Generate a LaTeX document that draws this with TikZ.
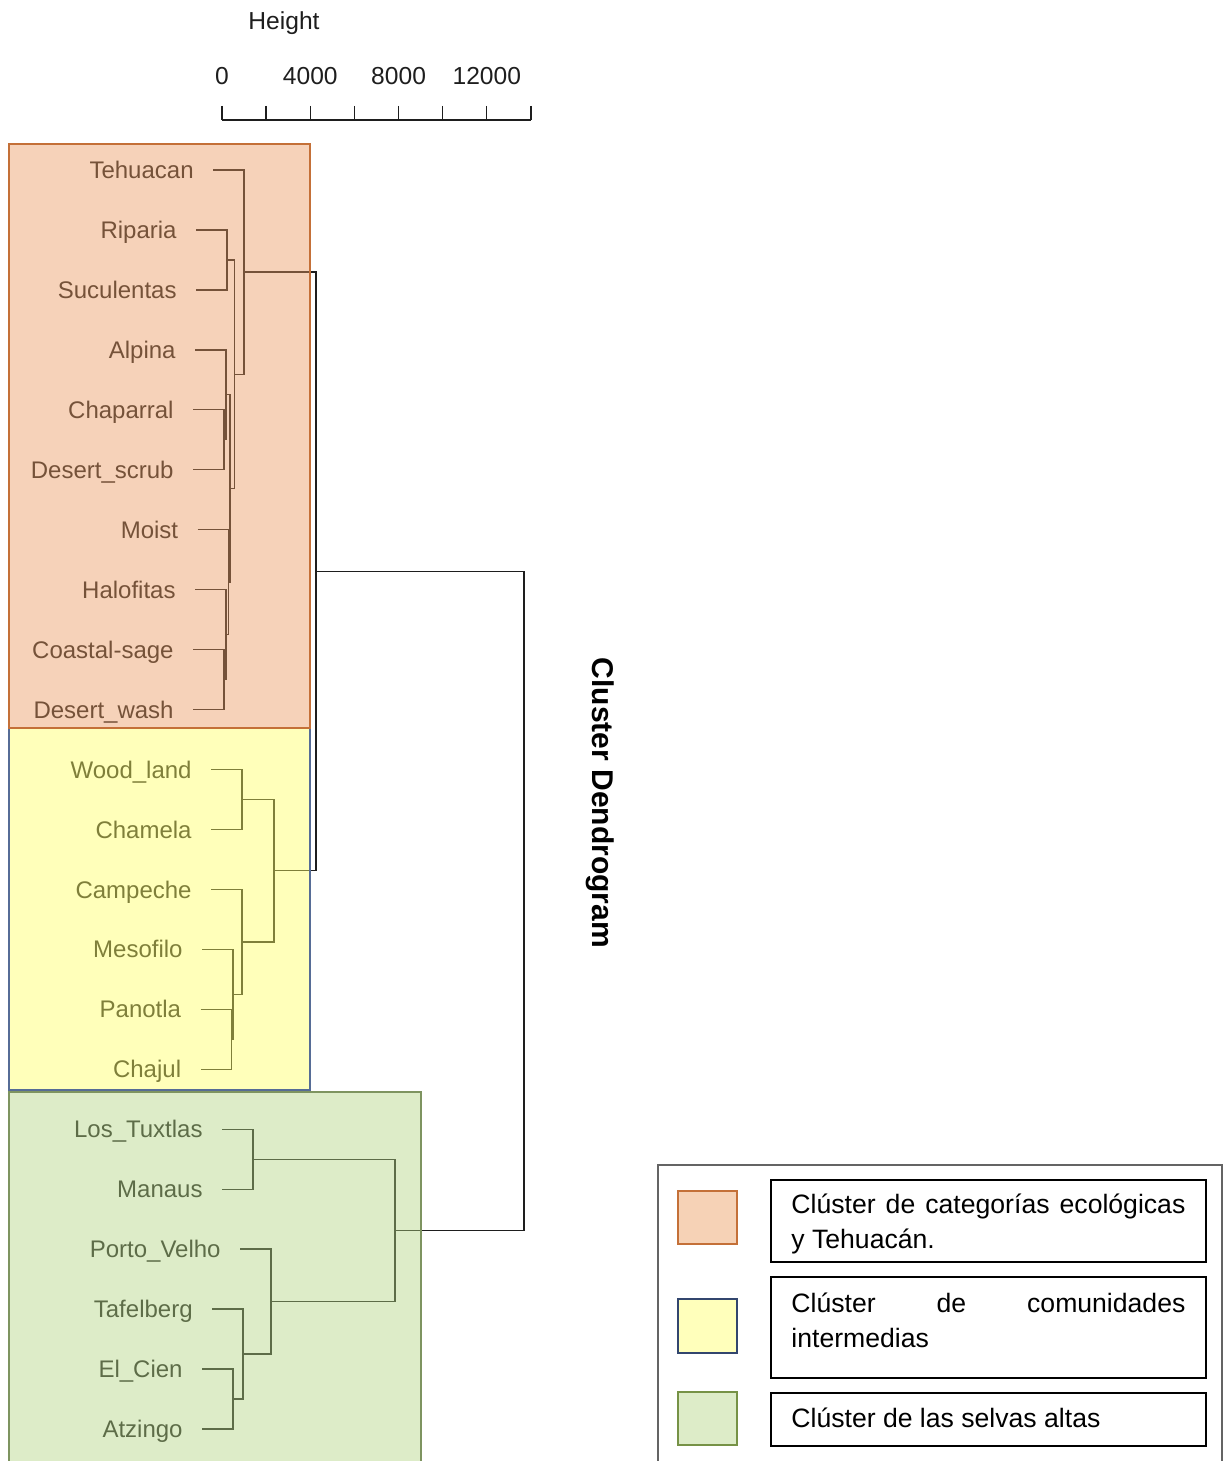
\documentclass[tikz,border=0pt]{standalone}
\usepackage{fontspec}
\setmainfont{Liberation Sans}
\usetikzlibrary{calc}

\definecolor{lineC}{RGB}{30,30,30}
\definecolor{orgC}{RGB}{233,151,93}
\definecolor{yelC}{RGB}{255,255,95}
\definecolor{grnC}{RGB}{177,212,128}
\definecolor{orgEdge}{RGB}{196,112,56}
\definecolor{yelEdge}{RGB}{86,108,150}
\definecolor{grnEdge}{RGB}{126,148,96}
\definecolor{orgSw}{RGB}{246,210,182}
\definecolor{yelSw}{RGB}{255,255,187}
\definecolor{grnSw}{RGB}{221,236,200}
\definecolor{yelSwEdge}{RGB}{50,70,110}
\definecolor{grnSwEdge}{RGB}{118,146,70}
\definecolor{legEdge}{RGB}{100,100,100}

% join two branches at height x: elbow from child A to child B through the new node
\newcommand\dmerge[4]{%
  \coordinate (#1-mid) at ($(#3)!0.5!(#4)$);
  \coordinate (#1) at (#2,0 |- #1-mid);
  \draw[tree] (#3) -| (#1) |- (#4);
}

\begin{document}
\begin{tikzpicture}[x=0.5pt,y=-0.5pt,
  tree/.style={draw=lineC, line width=0.65pt},
  leaf/.style={font=\fontsize{12}{14}\selectfont, text=lineC, anchor=base east,
               inner sep=0pt, yshift=-4.3pt},
  axislbl/.style={font=\fontsize{12.3}{14}\selectfont, text=lineC, inner sep=0pt},
  legtxt/.style={font=\fontsize{13.3}{17}\selectfont, text=black, anchor=base west, inner sep=0pt},
  legbox/.style={draw=black, line width=0.65pt},
  swatch/.style={line width=0.75pt}
]
\useasboundingbox (0,0) rectangle (1226,1461);
\clip (0,0) rectangle (1226,1461);

% height axis
\node[axislbl, anchor=base] (hlabel) at (284,30) {Height};
\draw[tree] (222,120) -- (531,120);
\foreach \k in {0,...,7} \draw[tree] (222+44.14*\k,106) -- (222+44.14*\k,120);
\node[axislbl] (a0) at (222,76) {0};
\node[axislbl] (a1) at (310.3,76) {4000};
\node[axislbl] (a2) at (398.6,76) {8000};
\node[axislbl] (a3) at (486.8,76) {12000};

% leaves: name / label / row / height of the first join
\foreach \n/\t/\i/\p in {
  teh/Tehuacan/0/244, rip/Riparia/1/227, suc/Suculentas/2/227,
  alp/Alpina/3/226, cha/Chaparral/4/224, dsc/Desert\_scrub/5/224,
  moi/Moist/6/228.5, hal/Halofitas/7/226, coa/Coastal-sage/8/224,
  dwa/Desert\_wash/9/224, woo/Wood\_land/10/242, cham/Chamela/11/242,
  camp/Campeche/12/242, mes/Mesofilo/13/233, pan/Panotla/14/231.5,
  chj/Chajul/15/231.5, lot/Los\_Tuxtlas/16/253, man/Manaus/17/253,
  por/Porto\_Velho/18/271, taf/Tafelberg/19/243, elc/El\_Cien/20/233,
  atz/Atzingo/21/233} {
  \coordinate (\n) at (\p-31,170+59.95*\i);
  \node[leaf] (\n-t) at ([xshift=-9.5pt]\n) {\t};
}

% joins
\dmerge{mA}{224}{cha}{dsc}
\dmerge{mB}{226}{alp}{mA}
\dmerge{mC}{224}{coa}{dwa}
\dmerge{mD}{226}{hal}{mC}
\dmerge{mE}{228.5}{moi}{mD}
\dmerge{mF}{230}{mB}{mE}
\dmerge{mG}{227}{rip}{suc}
\dmerge{mH}{234.5}{mG}{mF}
\dmerge{mI}{244}{teh}{mH}
\dmerge{mJ}{242}{woo}{cham}
\dmerge{mK}{231.5}{pan}{chj}
\dmerge{mL}{233}{mes}{mK}
\dmerge{mM}{242}{camp}{mL}
\dmerge{mN}{274}{mJ}{mM}
\dmerge{mO}{316}{mI}{mN}
\dmerge{mP}{253}{lot}{man}
\dmerge{mQ}{233}{elc}{atz}
\dmerge{mR}{243}{taf}{mQ}
\dmerge{mS}{271}{por}{mR}
\dmerge{mT}{395}{mP}{mS}
\dmerge{root}{524}{mO}{mT}

% translucent cluster panels
\fill[grnC, fill opacity=0.43] (9,1092) rectangle (421,1480);
\draw[grnEdge, line width=0.6pt] (9,1092) rectangle (421,1480);
\fill[yelC, fill opacity=0.43] (9,728) rectangle (310,1090);
\draw[yelEdge, line width=0.6pt] (9,728) rectangle (310,1090);
\fill[orgC, fill opacity=0.43] (9,144) rectangle (310,728);
\draw[orgEdge, line width=0.6pt] (9,144) rectangle (310,728);

% title
\node[font=\bfseries\fontsize{15}{18}\selectfont, rotate=-90, text=black] (title) at (600,803) {Cluster Dendrogram};

% legend
\draw[legEdge, line width=0.75pt] (658,1480) -- (658,1165) -- (1222,1165) -- (1222,1480);
\draw[swatch, fill=orgSw, draw=orgEdge] (678,1191) rectangle (737,1244);
\draw[swatch, fill=yelSw, draw=yelSwEdge] (678,1299) rectangle (737,1353);
\draw[swatch, fill=grnSw, draw=grnSwEdge] (678,1392) rectangle (737,1445);
\draw[legbox] (771,1180) rectangle (1206,1262);
\draw[legbox] (771,1277) rectangle (1206,1378);
\draw[legbox] (771,1393) rectangle (1206,1446);
\node[legtxt] (l1a) at (791,1213) {\makebox[197pt][s]{Clúster de categorías ecológicas}};
\node[legtxt] (l1b) at (791,1248) {y Tehuacán.};
\node[legtxt] (l2a) at (791,1312) {\makebox[197pt][s]{Clúster de comunidades}};
\node[legtxt] (l2b) at (791,1347) {intermedias};
\node[legtxt] (l3) at (791,1427) {Clúster de las selvas altas};
\end{tikzpicture}
\end{document}
